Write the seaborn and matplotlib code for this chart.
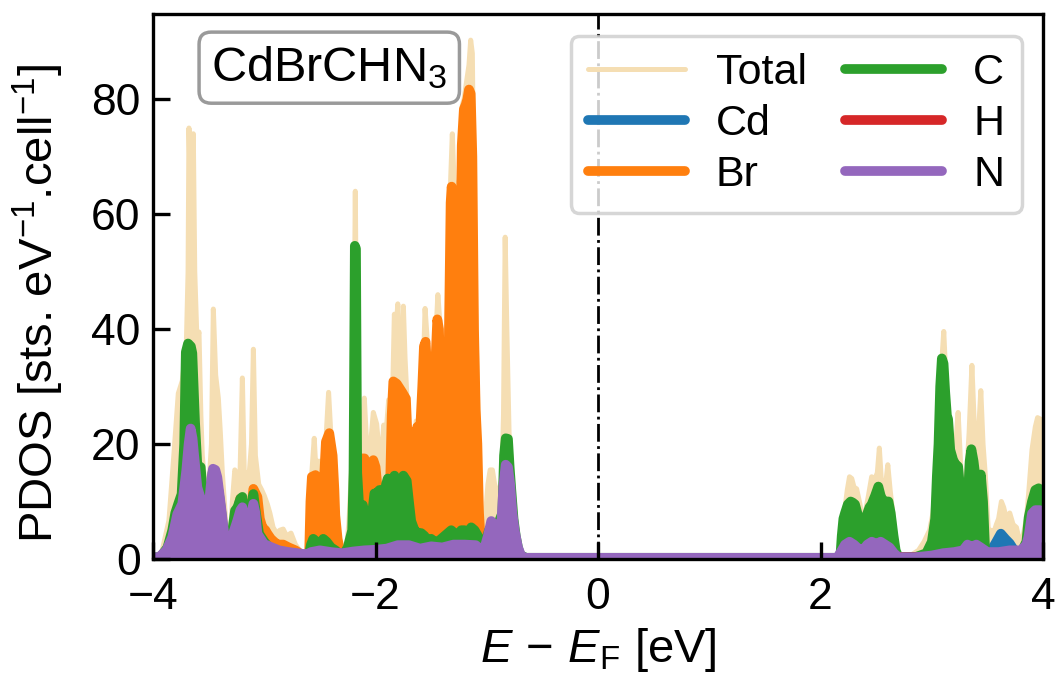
import matplotlib
matplotlib.use("Agg")
import matplotlib.pyplot as plt
import seaborn as sns

# Projected density of states of CdBrCHN3.
# Each list holds (E - E_F [eV], PDOS [states / eV / cell]) samples.
total_pts = [
    (-4.00, 0.3), (-3.95, 0.5), (-3.917, 1.5), (-3.857, 6.7), (-3.812, 18.3), (-3.773, 28.8),
    (-3.737, 31.0), (-3.701, 37.0), (-3.685, 50.0), (-3.677, 75.0), (-3.665, 64.0), (-3.65, 62.0),
    (-3.638, 74.0), (-3.625, 50.0), (-3.605, 38.0), (-3.587, 39.5), (-3.57, 25.0), (-3.557, 18.0),
    (-3.521, 10.0), (-3.497, 13.0), (-3.475, 20.0), (-3.458, 43.5), (-3.437, 32.0), (-3.413, 28.0),
    (-3.395, 22.0), (-3.377, 15.0), (-3.341, 5.0), (-3.311, 1.5), (-3.287, 10.0), (-3.265, 15.5),
    (-3.25, 15.0), (-3.235, 12.0), (-3.221, 12.5), (-3.197, 31.5), (-3.18, 15.0), (-3.16, 15.0),
    (-3.137, 14.5), (-3.115, 20.0), (-3.098, 36.5), (-3.08, 18.0), (-3.05, 13.0), (-3.023, 12.0),
    (-3.00, 11.0), (-2.972, 9.5), (-2.95, 8.0), (-2.921, 5.5), (-2.89, 4.5), (-2.86, 5.0),
    (-2.83, 5.2), (-2.80, 4.0), (-2.76, 4.5), (-2.72, 2.5), (-2.67, 1.2), (-2.62, 0.6), (-2.597, 1.0),
    (-2.585, 12.0), (-2.572, 15.2), (-2.551, 21.0), (-2.535, 15.0), (-2.52, 17.0), (-2.49, 17.0),
    (-2.465, 10.0), (-2.445, 21.0), (-2.422, 29.0), (-2.40, 21.0), (-2.386, 18.0), (-2.356, 9.4),
    (-2.335, 3.0), (-2.30, 2.0), (-2.265, 1.5), (-2.24, 6.0), (-2.21, 18.0), (-2.192, 40.0),
    (-2.182, 64.0), (-2.172, 40.0), (-2.155, 18.0), (-2.12, 22.0), (-2.101, 28.0), (-2.08, 20.0),
    (-2.062, 18.0), (-2.04, 21.0), (-2.02, 25.5), (-1.99, 23.5), (-1.965, 18.0), (-1.951, 16.0),
    (-1.927, 23.3), (-1.905, 22.0), (-1.882, 27.7), (-1.86, 25.0), (-1.845, 30.0), (-1.831, 42.6),
    (-1.815, 40.0), (-1.80, 44.4), (-1.785, 32.0), (-1.765, 31.0), (-1.75, 44.0), (-1.735, 35.0),
    (-1.72, 29.0), (-1.705, 12.0), (-1.69, 8.0), (-1.675, 7.0), (-1.655, 18.0), (-1.635, 24.0),
    (-1.615, 24.0), (-1.595, 25.0), (-1.575, 30.0), (-1.555, 43.6), (-1.535, 38.0), (-1.515, 30.0),
    (-1.495, 28.0), (-1.475, 33.0), (-1.455, 40.0), (-1.44, 46.0), (-1.425, 42.0), (-1.405, 30.0),
    (-1.385, 32.0), (-1.36, 28.0), (-1.34, 45.0), (-1.325, 66.0), (-1.31, 74.0), (-1.295, 66.0),
    (-1.28, 65.0), (-1.265, 55.0), (-1.25, 58.0), (-1.235, 68.0), (-1.22, 79.0), (-1.205, 80.0),
    (-1.19, 82.0), (-1.175, 84.0), (-1.16, 86.0), (-1.145, 90.3), (-1.13, 88.0), (-1.115, 60.0),
    (-1.10, 42.0), (-1.085, 30.0), (-1.07, 15.0), (-1.05, 6.0), (-1.03, 3.0), (-1.01, 8.0),
    (-0.99, 13.0), (-0.97, 15.5), (-0.95, 15.5), (-0.93, 13.0), (-0.905, 11.5), (-0.885, 12.0),
    (-0.865, 14.0), (-0.85, 25.0), (-0.835, 56.0), (-0.82, 40.0), (-0.80, 22.0), (-0.785, 18.0),
    (-0.77, 12.0), (-0.75, 7.0), (-0.72, 3.0), (-0.69, 1.0), (-0.65, 0.3), (-0.60, 0.2),
    (2.10, 0.2), (2.16, 0.5), (2.19, 3.0), (2.22, 9.0), (2.24, 12.0), (2.26, 14.3), (2.28, 14.0),
    (2.30, 12.5), (2.324, 12.2), (2.354, 9.5), (2.384, 6.0), (2.40, 8.0), (2.43, 11.0),
    (2.459, 14.3), (2.49, 14.0), (2.51, 15.0), (2.528, 19.3), (2.545, 14.0), (2.565, 12.0),
    (2.585, 13.0), (2.604, 16.4), (2.625, 12.0), (2.655, 7.0), (2.685, 1.0), (2.72, 0.4),
    (2.80, 0.5), (2.88, 1.5), (2.93, 3.0), (2.98, 5.0), (3.01, 8.0), (3.04, 15.0), (3.06, 19.0),
    (3.08, 30.0), (3.095, 36.0), (3.107, 39.6), (3.12, 34.0), (3.14, 26.0), (3.16, 22.0),
    (3.19, 19.5), (3.215, 20.0), (3.236, 25.5), (3.25, 20.0), (3.27, 12.0), (3.29, 9.0),
    (3.31, 14.0), (3.335, 22.0), (3.36, 33.7), (3.38, 24.0), (3.40, 20.0), (3.42, 22.0),
    (3.44, 29.3), (3.46, 20.0), (3.48, 14.7), (3.51, 4.0), (3.53, 5.0), (3.555, 4.5), (3.58, 6.0),
    (3.60, 7.0), (3.625, 10.0), (3.645, 9.0), (3.67, 7.0), (3.70, 8.0), (3.73, 6.0), (3.76, 5.5),
    (3.79, 3.0), (3.82, 4.0), (3.85, 7.0), (3.87, 11.4), (3.90, 19.0), (3.93, 23.0), (3.95, 24.6),
    (3.98, 24.3), (4.00, 20.0),
]

cd_pts = [
    (-4.00, 0.1), (-3.70, 0.3), (-3.45, 0.4), (-3.20, 0.8), (-3.00, 0.3), (-2.60, 0.3),
    (-2.46, 1.0), (-2.44, 3.0), (-2.42, 1.0), (-2.30, 0.3), (-2.00, 0.5), (-1.96, 1.5),
    (-1.93, 0.5), (-1.50, 0.4), (-1.00, 0.3), (-0.84, 0.6), (-0.83, 2.0), (-0.82, 0.6),
    (-0.60, 0.1), (2.00, 0.1), (2.70, 0.2), (3.00, 0.5), (3.05, 1.5), (3.10, 0.6), (3.50, 0.8),
    (3.55, 2.0), (3.58, 3.0), (3.62, 4.4), (3.66, 3.5), (3.70, 2.7), (3.74, 1.5), (3.80, 0.6),
    (3.95, 1.0), (3.97, 3.0), (3.99, 1.0), (4.00, 0.6),
]

br_pts = [
    (-4.00, 0.1), (-3.80, 0.3), (-3.60, 0.5), (-3.40, 0.5), (-3.32, 1.5), (-3.30, 5.0),
    (-3.27, 5.5), (-3.25, 6.0), (-3.235, 9.0), (-3.215, 10.5), (-3.20, 10.5), (-3.185, 8.0),
    (-3.16, 6.0), (-3.137, 5.0), (-3.115, 9.0), (-3.098, 12.2), (-3.08, 11.5), (-3.062, 10.8),
    (-3.04, 7.0), (-3.017, 5.5), (-2.99, 5.0), (-2.972, 4.4), (-2.94, 3.5), (-2.912, 3.0),
    (-2.88, 2.5), (-2.83, 2.5), (-2.78, 2.0), (-2.72, 1.5), (-2.66, 0.7), (-2.62, 0.4),
    (-2.597, 0.8), (-2.585, 10.0), (-2.572, 14.3), (-2.54, 14.6), (-2.52, 13.5), (-2.506, 12.9),
    (-2.476, 9.4), (-2.46, 15.0), (-2.446, 20.4), (-2.416, 21.9), (-2.386, 18.0), (-2.37, 12.0),
    (-2.362, 7.6), (-2.341, 3.5), (-2.311, 0.6), (-2.25, 0.5), (-2.20, 1.0), (-2.16, 5.0),
    (-2.14, 14.0), (-2.12, 17.5), (-2.10, 17.5), (-2.08, 15.0), (-2.062, 13.4), (-2.04, 15.0),
    (-2.02, 17.2), (-2.00, 16.0), (-1.981, 12.2), (-1.96, 9.0), (-1.936, 8.2), (-1.91, 6.0),
    (-1.89, 5.9), (-1.87, 12.0), (-1.855, 25.0), (-1.84, 30.9), (-1.81, 30.5), (-1.783, 29.7),
    (-1.76, 29.0), (-1.727, 27.9), (-1.71, 20.0), (-1.695, 8.0), (-1.675, 6.0), (-1.655, 10.0),
    (-1.64, 20.0), (-1.625, 23.0), (-1.61, 15.0), (-1.595, 24.0), (-1.58, 30.0), (-1.565, 37.0),
    (-1.55, 37.8), (-1.535, 32.0), (-1.52, 12.0), (-1.505, 26.0), (-1.49, 30.0), (-1.475, 27.0),
    (-1.46, 35.0), (-1.445, 41.7), (-1.43, 40.0), (-1.415, 28.0), (-1.40, 22.0), (-1.385, 27.0),
    (-1.37, 25.0), (-1.355, 10.0), (-1.34, 40.0), (-1.325, 62.0), (-1.316, 64.8), (-1.30, 62.0),
    (-1.285, 50.0), (-1.27, 52.0), (-1.255, 20.0), (-1.24, 50.0), (-1.225, 72.0), (-1.206, 78.3),
    (-1.19, 79.0), (-1.175, 80.0), (-1.16, 81.7), (-1.145, 81.0), (-1.13, 70.0), (-1.115, 40.0),
    (-1.10, 26.0), (-1.085, 20.0), (-1.07, 8.0), (-1.05, 1.5), (-1.00, 0.5), (-0.90, 0.5),
    (-0.80, 0.6), (-0.70, 0.3), (-0.60, 0.1), (2.10, 0.1), (2.70, 0.2), (3.10, 0.3), (3.20, 0.5),
    (3.22, 2.0), (3.24, 0.5), (3.50, 0.4), (3.90, 0.5), (3.95, 2.0), (3.97, 0.5), (4.00, 0.5),
]

c_pts = [
    (-4.00, 0.2), (-3.93, 0.4), (-3.87, 2.0), (-3.827, 5.0), (-3.80, 8.0), (-3.773, 9.6),
    (-3.743, 11.3), (-3.72, 20.0), (-3.705, 36.0), (-3.685, 37.5), (-3.66, 37.0), (-3.647, 35.8),
    (-3.635, 30.0), (-3.623, 24.0), (-3.602, 16.3), (-3.572, 16.0), (-3.555, 12.0), (-3.542, 9.6),
    (-3.512, 6.7), (-3.49, 9.0), (-3.465, 15.0), (-3.452, 15.4), (-3.43, 14.0), (-3.407, 11.3),
    (-3.385, 8.0), (-3.371, 5.5), (-3.35, 2.5), (-3.332, 1.0), (-3.30, 3.0), (-3.28, 6.0),
    (-3.263, 8.4), (-3.24, 9.0), (-3.215, 10.5), (-3.197, 10.8), (-3.175, 8.0), (-3.147, 6.0),
    (-3.12, 8.0), (-3.098, 11.3), (-3.075, 8.0), (-3.047, 4.4), (-3.00, 3.0), (-2.957, 2.0),
    (-2.90, 1.5), (-2.867, 1.0), (-2.80, 1.0), (-2.72, 0.8), (-2.65, 0.5), (-2.60, 0.6),
    (-2.58, 2.5), (-2.56, 3.5), (-2.53, 3.0), (-2.50, 2.5), (-2.47, 3.5), (-2.44, 3.0),
    (-2.40, 2.0), (-2.36, 1.5), (-2.32, 0.8), (-2.28, 1.0), (-2.25, 2.0), (-2.21, 5.0),
    (-2.198, 15.0), (-2.186, 54.5), (-2.176, 54.0), (-2.165, 15.0), (-2.15, 10.0), (-2.13, 8.0),
    (-2.115, 9.4), (-2.10, 8.0), (-2.085, 6.0), (-2.06, 6.5), (-2.03, 8.0), (-2.01, 11.4),
    (-1.99, 11.4), (-1.965, 12.0), (-1.945, 12.0), (-1.925, 11.0), (-1.905, 13.0), (-1.89, 14.0),
    (-1.87, 12.5), (-1.85, 12.0), (-1.83, 14.5), (-1.81, 13.0), (-1.79, 12.0), (-1.77, 13.0),
    (-1.75, 14.5), (-1.72, 13.6), (-1.70, 10.0), (-1.68, 6.6), (-1.65, 5.0), (-1.62, 4.5),
    (-1.59, 4.5), (-1.56, 4.0), (-1.53, 3.0), (-1.50, 3.5), (-1.47, 3.0), (-1.44, 3.0),
    (-1.41, 3.5), (-1.38, 4.0), (-1.35, 4.5), (-1.32, 5.0), (-1.29, 4.5), (-1.26, 3.0),
    (-1.23, 5.0), (-1.20, 5.0), (-1.17, 4.5), (-1.14, 5.5), (-1.11, 5.0), (-1.08, 4.0),
    (-1.05, 2.0), (-1.03, 1.5), (-1.01, 3.0), (-0.98, 5.0), (-0.95, 6.0), (-0.92, 6.0),
    (-0.89, 6.5), (-0.86, 8.0), (-0.845, 18.0), (-0.83, 21.0), (-0.81, 20.9), (-0.795, 16.0),
    (-0.78, 12.0), (-0.76, 7.0), (-0.74, 4.0), (-0.72, 2.0), (-0.70, 0.7), (-0.65, 0.2),
    (2.15, 0.2), (2.18, 1.0), (2.19, 4.0), (2.205, 7.0), (2.22, 8.0), (2.245, 9.5), (2.27, 10.0),
    (2.29, 9.8), (2.309, 9.5), (2.33, 8.0), (2.354, 6.2), (2.384, 4.7), (2.40, 6.0),
    (2.414, 7.6), (2.44, 9.0), (2.459, 9.5), (2.49, 11.0), (2.519, 12.6), (2.54, 11.0),
    (2.564, 10.0), (2.59, 10.0), (2.61, 10.0), (2.63, 8.0), (2.655, 4.1), (2.675, 1.5),
    (2.70, 0.3), (2.85, 0.3), (2.95, 1.0), (3.00, 3.0), (3.03, 7.0), (3.045, 14.4), (3.06, 20.0),
    (3.075, 30.0), (3.09, 34.9), (3.105, 34.0), (3.12, 29.0), (3.135, 25.0), (3.146, 24.3),
    (3.165, 19.0), (3.19, 17.3), (3.21, 16.5), (3.236, 16.1), (3.25, 13.0), (3.265, 10.0),
    (3.285, 6.0), (3.30, 5.0), (3.32, 9.0), (3.34, 17.0), (3.355, 19.1), (3.375, 17.0),
    (3.40, 13.0), (3.42, 13.0), (3.44, 14.7), (3.46, 10.0), (3.48, 1.0), (3.52, 0.8),
    (3.60, 0.8), (3.70, 0.8), (3.80, 1.0), (3.85, 3.0), (3.87, 7.2), (3.90, 10.0), (3.93, 12.0),
    (3.96, 12.3), (3.98, 12.0), (4.00, 11.0),
]

h_pts = [
    (-4.00, 0.1), (-3.85, 0.3), (-3.78, 1.0), (-3.74, 1.6), (-3.70, 0.6), (-3.60, 0.3),
    (-3.46, 0.6), (-3.44, 1.8), (-3.42, 1.2), (-3.38, 0.3), (-3.20, 0.5), (-3.16, 1.2),
    (-3.12, 0.4), (-2.90, 0.2), (-2.00, 0.2), (-0.95, 0.3), (-0.93, 0.9), (-0.85, 0.9),
    (-0.82, 0.3), (-0.60, 0.1), (2.20, 0.1), (2.26, 1.0), (2.30, 1.2), (2.34, 0.8), (2.40, 0.3),
    (3.90, 0.3), (3.96, 1.5), (3.98, 2.5), (4.00, 1.0),
]

n_pts = [
    (-4.00, 0.3), (-3.947, 0.3), (-3.88, 1.5), (-3.827, 3.8), (-3.782, 7.8), (-3.737, 9.6),
    (-3.701, 15.4), (-3.68, 20.0), (-3.662, 22.7), (-3.645, 21.0), (-3.632, 18.3), (-3.602, 12.5),
    (-3.557, 9.6), (-3.521, 6.1), (-3.497, 9.6), (-3.475, 14.0), (-3.461, 15.7), (-3.44, 15.5),
    (-3.422, 14.2), (-3.392, 9.6), (-3.353, 3.2), (-3.317, 0.8), (-3.281, 4.4), (-3.242, 6.7),
    (-3.215, 8.5), (-3.197, 9.0), (-3.18, 7.0), (-3.167, 5.0), (-3.137, 4.4), (-3.115, 8.0),
    (-3.098, 9.6), (-3.08, 8.0), (-3.062, 4.4), (-3.002, 2.6), (-2.93, 2.0), (-2.867, 1.5),
    (-2.78, 1.2), (-2.70, 1.0), (-2.62, 0.8), (-2.58, 1.2), (-2.50, 1.5), (-2.40, 1.2),
    (-2.30, 1.0), (-2.20, 1.3), (-2.10, 1.5), (-2.00, 1.6), (-1.90, 1.8), (-1.80, 2.4),
    (-1.70, 2.4), (-1.60, 1.8), (-1.50, 2.2), (-1.40, 2.0), (-1.30, 2.5), (-1.20, 2.5),
    (-1.10, 2.4), (-1.05, 1.6), (-1.02, 2.0), (-0.99, 4.0), (-0.96, 6.6), (-0.93, 6.0),
    (-0.90, 5.0), (-0.87, 6.0), (-0.85, 13.0), (-0.83, 16.4), (-0.81, 16.0), (-0.79, 13.0),
    (-0.77, 8.0), (-0.75, 5.0), (-0.72, 2.0), (-0.69, 0.5), (-0.65, 0.2), (2.15, 0.2),
    (2.19, 1.5), (2.22, 2.5), (2.26, 3.0), (2.30, 2.5), (2.34, 1.8), (2.38, 1.5), (2.42, 2.5),
    (2.46, 3.0), (2.50, 2.6), (2.54, 3.0), (2.58, 2.5), (2.62, 2.0), (2.66, 1.0), (2.70, 0.3),
    (2.85, 0.3), (3.00, 0.6), (3.10, 1.0), (3.20, 1.2), (3.28, 1.5), (3.32, 2.5), (3.36, 2.1),
    (3.40, 2.5), (3.44, 2.0), (3.50, 1.2), (3.60, 1.2), (3.70, 1.5), (3.80, 1.5), (3.85, 2.5),
    (3.87, 4.0), (3.90, 7.9), (3.93, 8.5), (3.97, 8.5), (4.00, 8.0),
]

labels = ["Total", "Cd", "Br", "C", "H", "N"]
colors = ["wheat", "tab:blue", "tab:orange", "tab:green", "tab:red", "tab:purple"]
widths = [3.6, 7.0, 7.0, 7.0, 7.0, 7.0]
curves = [total_pts, cd_pts, br_pts, c_pts, h_pts, n_pts]

sns.set_style("ticks")
plt.rcParams.update({
    "font.family": ["Liberation Sans", "DejaVu Sans"],
    "mathtext.fontset": "custom",
    "mathtext.rm": "Liberation Sans",
    "mathtext.it": "Liberation Sans:italic",
    "mathtext.bf": "Liberation Sans:bold",
    "axes.linewidth": 2.4,
    "axes.edgecolor": "black",
    "axes.labelcolor": "black",
    "text.color": "black",
    "xtick.color": "black",
    "ytick.color": "black",
})

fig = plt.figure(figsize=(10.59, 6.80), dpi=100)
ax = fig.add_axes([0.1445, 0.178, 0.8405, 0.801])

for i, (lab, col, lw, pts) in enumerate(zip(labels, colors, widths, curves)):
    e = [p[0] for p in pts]
    d = [p[1] for p in pts]
    ax.fill_between(e, 0, d, color=col, lw=0, zorder=2 + 2 * i)
    sns.lineplot(x=e, y=d, ax=ax, color=col, lw=lw, label=lab, estimator=None,
                 sort=True, zorder=3 + 2 * i)

# Fermi level
ax.axvline(0.0, color="black", lw=2.0, ls="-.", zorder=15)

ax.set_xlim(-4, 4)
ax.set_ylim(0, 94.8)
ax.set_xticks([-4, -2, 0, 2, 4])
ax.set_yticks([0, 20, 40, 60, 80])
ax.tick_params(direction="in", length=12, width=2.4, labelsize=32, top=False, right=False)
ax.tick_params(axis="x", pad=13)
ax.tick_params(axis="y", pad=9)
ax.set_xlabel(r"$E\,-\,E_{\rm F}$ [eV]", fontsize=34, labelpad=6)
ax.set_ylabel(r"PDOS [sts. eV$^{-1}$.cell$^{-1}$]", fontsize=34, labelpad=14)
ax.yaxis.set_label_coords(-0.098, 0.47)
for sp in ax.spines.values():
    sp.set_zorder(25)
ax.xaxis.set_zorder(25)
ax.yaxis.set_zorder(25)

leg = ax.legend(ncol=2, loc="upper right", fontsize=31, columnspacing=0.9,
                handlelength=2.25, handletextpad=0.72, labelspacing=0.26,
                frameon=True, fancybox=True, framealpha=0.8, edgecolor="0.8",
                borderaxespad=0.5)
leg.get_frame().set_linewidth(2.5)
leg.set_zorder(30)

ax.text(0.198, 0.902, r"CdBrCHN$_3$", transform=ax.transAxes, ha="center", va="center",
        fontsize=35, zorder=30,
        bbox=dict(boxstyle="round,pad=0.25", fc="white", ec="#9a9a9a", lw=2.5))

fig.savefig("out.png", dpi=100)
